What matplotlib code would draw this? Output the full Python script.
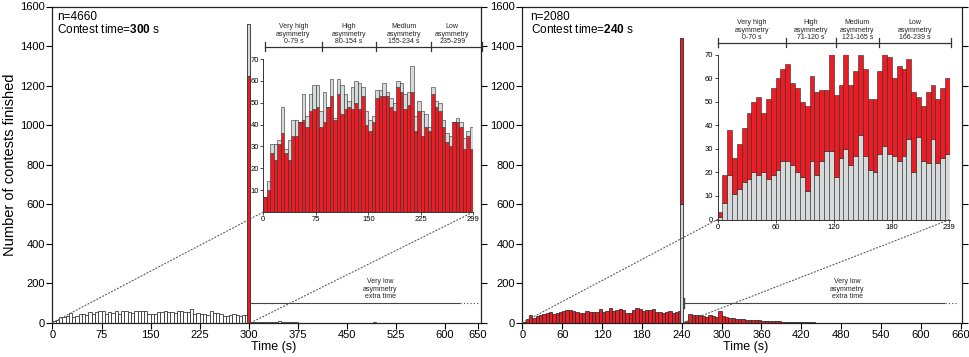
import numpy as np
import matplotlib.pyplot as plt
import matplotlib.transforms as mtransforms
from matplotlib.patches import ConnectionPatch

plt.rcParams['font.family'] = ['Liberation Sans', 'DejaVu Sans']
plt.rcParams['mathtext.fontset'] = 'custom'
plt.rcParams['mathtext.rm'] = 'Liberation Sans'
plt.rcParams['mathtext.bf'] = 'Liberation Sans:bold'

RED = '#ec1c24'
GREY = '#d6dada'
EDGE = '#2a2a2a'
LINE = '#444444'
BIN = 5

# ---- contest time 300 s (left panel), 5 s bins from 0 s
left_total = [7, 14, 31, 31, 33, 48, 29, 33, 42, 42,
              41, 54, 44, 54, 58, 58, 46, 55, 48, 61,
              43, 61, 58, 54, 51, 57, 60, 59, 57, 46,
              42, 44, 56, 56, 59, 55, 52, 50, 60, 59,
              54, 55, 67, 44, 51, 46, 45, 39, 57, 51,
              50, 42, 36, 35, 41, 43, 41, 34, 37, 39]
left_red = [7, 10, 27, 24, 31, 36, 27, 24, 35, 35,
            41, 42, 39, 46, 47, 48, 39, 41, 48, 53,
            42, 54, 45, 47, 48, 47, 50, 47, 53, 40,
            37, 41, 52, 53, 53, 53, 48, 46, 57, 55,
            47, 49, 55, 37, 46, 35, 39, 37, 54, 48,
            46, 39, 32, 30, 41, 41, 39, 29, 35, 29]
left_limit_red = 1250     # contests stopped at 300 s
left_limit_grey = 260
left_extra_t = [300, 305, 310, 315, 320, 325, 330, 335, 340, 345, 350, 355, 360, 365, 370, 490]
left_extra_n = [6, 5, 4, 5, 4, 3, 4, 5, 6, 7, 6, 5, 4, 3, 2, 3]
left_groups = ["Very high\nasymmetry\n0-79 s", "High\nasymmetry\n80-154 s",
               "Medium\nasymmetry\n155-234 s", "Low\nasymmetry\n235-299"]
left_group_edges = [2, 84, 161, 240, 313]

# ---- contest time 240 s (right panel)
right_total = [3, 19, 38, 26, 32, 39, 45, 50, 52, 45,
               51, 56, 60, 64, 66, 58, 56, 50, 48, 61,
               54, 55, 55, 71, 53, 57, 72, 57, 63, 70,
               64, 51, 51, 63, 72, 69, 60, 65, 64, 68,
               54, 52, 48, 54, 57, 51, 56, 60]
right_grey = [1, 7, 19, 11, 13, 16, 17, 20, 19, 20,
              17, 19, 21, 25, 25, 23, 20, 18, 12, 25,
              19, 25, 29, 29, 18, 26, 30, 23, 27, 36,
              27, 21, 20, 28, 31, 28, 27, 25, 27, 34,
              20, 35, 25, 24, 34, 24, 26, 28]
right_limit_grey = 600    # contests stopped at 240 s
right_limit_red = 840
right_extra_n = [10, 45, 40, 40, 37, 34, 30, 38, 32, 28, 60, 32, 27, 25, 22, 20,
                 18, 18, 15, 14, 13, 12, 12, 11, 10, 9, 8, 8, 7, 6, 5, 5,
                 4, 4, 3, 3, 3, 2, 2, 1, 1, 1, 1, 0, 1, 0, 0, 1]
right_extra_start = 245
right_groups = ["Very high\nasymmetry\n0-70 s", "High\nasymmetry\n71-120 s",
                "Medium\nasymmetry\n121-165 s", "Low\nasymmetry\n166-239 s"]
right_group_edges = [0, 71, 122, 167, 241]

W, H = 970, 357


def fbox(x0, y0, x1, y1):
    return [x0 / W, 1 - y1 / H, (x1 - x0) / W, (y1 - y0) / H]


fig = plt.figure(figsize=(W / 100, H / 100), dpi=100)
ax_l = fig.add_axes(fbox(52.5, 6.5, 481, 322.7))
ax_r = fig.add_axes(fbox(522.3, 6.5, 962, 322.7))
in_l = fig.add_axes(fbox(263.3, 59, 473.3, 212))
in_r = fig.add_axes(fbox(717.5, 54.5, 950, 219.5))

bar_kw = dict(align='edge', width=BIN, edgecolor=EDGE, linewidth=0.55)

# main panels
t_l = np.arange(len(left_total)) * BIN
ax_l.bar(t_l, left_total, color='white', **bar_kw)
ax_l.bar(left_extra_t, left_extra_n, color='white', **bar_kw)
ax_l.bar(299, left_limit_red, width=4.5, color=RED, edgecolor=EDGE, linewidth=0.6)
ax_l.bar(299, left_limit_grey, bottom=left_limit_red, width=4.5, color=GREY,
         edgecolor=EDGE, linewidth=0.6)

t_r = np.arange(len(right_total)) * BIN
ax_r.bar(t_r, right_total, color=RED, **bar_kw)
t_rx = right_extra_start + np.arange(len(right_extra_n)) * BIN
ax_r.bar(t_rx, right_extra_n, color=RED, **bar_kw)
ax_r.bar(239.5, right_limit_grey, width=4.5, color=GREY, edgecolor=EDGE, linewidth=0.6)
ax_r.bar(239.5, right_limit_red, bottom=right_limit_grey, width=4.5, color=RED,
         edgecolor=EDGE, linewidth=0.6)

for ax, xmax, ticks in [(ax_l, 655, [0, 75, 150, 225, 300, 375, 450, 525, 600, 650]),
                        (ax_r, 662, list(range(0, 661, 60)))]:
    ax.set_xlim(0, xmax)
    ax.set_ylim(0, 1600)
    ax.set_xticks(ticks)
    ax.set_yticks(range(0, 1601, 200))
    ax.tick_params(axis='both', labelsize=8, length=4, width=0.8, pad=1.5, direction='out')
    ax.tick_params(axis='y', right=True, labelright=False)
    for s in ax.spines.values():
        s.set_linewidth(0.9)
        s.set_color('#222222')

ax_l.text(0.011, 0.967, "n=4660", transform=ax_l.transAxes, fontsize=8.5, va='center')
ax_l.text(0.011, 0.926, r"Contest time=$\bf{300}$ s", transform=ax_l.transAxes,
          fontsize=8.5, va='center')
ax_r.text(0.019, 0.967, "n=2080", transform=ax_r.transAxes, fontsize=8.5, va='center')
ax_r.text(0.019, 0.926, r"Contest time=$\bf{240}$ s", transform=ax_r.transAxes,
          fontsize=8.5, va='center')

fig.text(10 / W, 1 - 165 / H, "Number of contests finished", rotation=90,
         ha='center', va='center', fontsize=10.5)
fig.text(274 / W, 1 - 347 / H, "Time (s)", ha='center', va='center', fontsize=9)
fig.text(746 / W, 1 - 347 / H, "Time (s)", ha='center', va='center', fontsize=9)

# very low asymmetry / extra time marker
for ax, x0, x1, x2, xt in [(ax_l, 302, 623, 650, 501), (ax_r, 243, 637, 656, 489)]:
    ax.plot([x0, x1], [100, 100], color=LINE, lw=0.8, solid_capstyle='butt')
    ax.plot([x1, x2], [100, 100], color=LINE, lw=0.8, ls=(0, (1, 2)))
    ax.text(xt, 114, "Very low\nasymmetry\nextra time", ha='center', va='bottom',
            fontsize=5, linespacing=1.1, color='#222222')
ax_r.plot([243, 243], [75, 125], color=LINE, lw=1.0)

# insets
t_il = np.arange(len(left_total)) * BIN
in_l.bar(t_il, left_red, color=RED, **dict(bar_kw, linewidth=0.4))
in_l.bar(t_il, np.array(left_total) - np.array(left_red), bottom=left_red, color=GREY,
         **dict(bar_kw, linewidth=0.4))
in_l.set_xlim(0, 300)
in_l.set_ylim(0, 70)
in_l.set_xticks([0, 75, 150, 225, 299])
in_l.set_yticks(range(10, 71, 10))

t_ir = np.arange(len(right_total)) * BIN
in_r.bar(t_ir, right_grey, color=GREY, **dict(bar_kw, linewidth=0.4))
in_r.bar(t_ir, np.array(right_total) - np.array(right_grey), bottom=right_grey, color=RED,
         **dict(bar_kw, linewidth=0.4))
in_r.set_xlim(0, 240)
in_r.set_ylim(0, 70)
in_r.set_xticks([0, 60, 120, 180, 239])
in_r.set_yticks(range(0, 71, 10))

for ax in (in_l, in_r):
    ax.set_facecolor('none')
    ax.spines['top'].set_visible(False)
    ax.spines['right'].set_visible(False)
    for s in ('left', 'bottom'):
        ax.spines[s].set_linewidth(0.7)
        ax.spines[s].set_color('#333333')
    ax.tick_params(axis='both', labelsize=5.5, length=2, width=0.5, pad=1)


def bracket(ax, edges, labels, y, label_end, hpx):
    tr = mtransforms.blended_transform_factory(ax.transData, ax.transAxes)
    d = 4.5 / hpx
    ax.plot([edges[0], edges[-1]], [y, y], transform=tr, clip_on=False,
            color='#333333', lw=0.9)
    for e in edges:
        ax.plot([e, e], [y - d, y + d], transform=tr, clip_on=False,
                color='#333333', lw=0.9)
    for i, lab in enumerate(labels):
        xm = (edges[i] + min(edges[i + 1], label_end)) / 2
        ax.text(xm, y + 1.5 / hpx, lab, transform=tr, ha='center', va='bottom',
                fontsize=5, linespacing=1.1, color='#222222')


bracket(in_l, left_group_edges, left_groups, 1.080, 300, 153)
bracket(in_r, right_group_edges, right_groups, 1.070, 240, 165)

# dotted zoom connectors
for ax, ins, a, b in [(ax_l, in_l, (0, 0), (0, 0)), (ax_l, in_l, (303, 0), (300, 0)),
                      (ax_r, in_r, (0, 0), (0, 0)), (ax_r, in_r, (243, 0), (240, 0))]:
    con = ConnectionPatch(xyA=a, coordsA=ax.transData, xyB=b, coordsB=ins.transData,
                          color='#555555', lw=0.8, ls=(0, (1, 2)))
    fig.add_artist(con)

fig.savefig('out.png', dpi=100)
